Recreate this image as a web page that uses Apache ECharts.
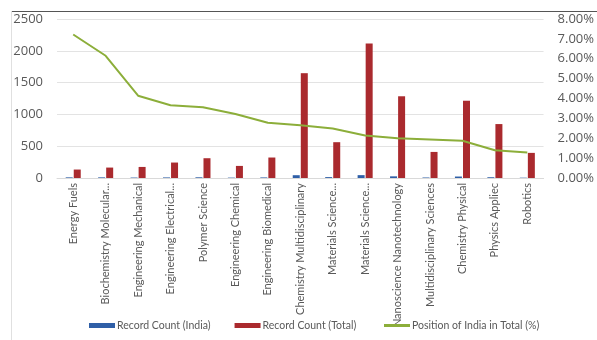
<!DOCTYPE html>
<html><head><meta charset="utf-8">
<script src="https://cdn.jsdelivr.net/npm/echarts@6/dist/echarts.min.js"></script>
<style>html,body{margin:0;padding:0;background:#fff}#c{width:597px;height:340px}</style>
</head><body><div id="c"></div>
<script>
const categories = ["Energy Fuels","Biochemistry Molecular...","Engineering Mechanical","Engineering Electrical...","Polymer Science","Engineering Chemical","Engineering Biomedical","Chemistry Multidisciplinary","Materials Science...","Materials Science...","Nanoscience Nanotechnology","Multidisciplinary Sciences","Chemistry Physical","Physics Appliec","Robotics"];
const indiaCount = [10,10,7,9,11,6,9,44,14,45,26,8,23,12,5];
const totalCount = [133,164,174,243,311,190,322,1648,563,2115,1285,410,1215,848,395];
const indiaPct = [7.22,6.15,4.14,3.66,3.56,3.22,2.78,2.66,2.49,2.14,2.0,1.94,1.87,1.40,1.28];
const leftTicks = [0,500,1000,1500,2000,2500];

const chart = echarts.init(document.getElementById('c'));
const txt = '#595959';
chart.setOption({
  animation:false,
  textStyle:{fontFamily:'Open Sans, Liberation Sans, sans-serif'},
  grid:{left:57,right:42,top:19,bottom:162},
  legend:[{
    bottom:4,left:84,itemGap:24,itemWidth:26,itemHeight:5,
    textStyle:{color:txt,fontSize:10.5,fontFamily:'Lato',padding:[0,0,0,-3]},
    data:[{name:'Record Count (India)',icon:'rect'},{name:'Record Count (Total)',icon:'rect'}]
  },{
    bottom:4,left:379,itemWidth:26,itemHeight:3,
    textStyle:{color:txt,fontSize:10.5,fontFamily:'Lato',padding:[0,0,0,-3]},
    data:[{name:'Position of India in Total (%)',icon:'rect'}]
  }],
  xAxis:{type:'category',data:categories,
    axisLine:{lineStyle:{color:'#d9d9d9'}},axisTick:{show:false},
    axisLabel:{rotate:90,interval:0,color:txt,fontSize:11,fontFamily:'Lato',margin:5}},
  yAxis:[
    {type:'value',min:leftTicks[0],max:leftTicks[leftTicks.length-1],interval:500,
     axisLabel:{color:txt,fontSize:13,margin:14,formatter:v=>String(v)},
     splitLine:{lineStyle:{color:'#e3e3e3'}}},
    {type:'value',min:0,max:8,interval:1,position:'right',
     axisLabel:{color:txt,fontSize:13,margin:14,formatter:v=>v.toFixed(2)+'%'},
     splitLine:{show:false}}
  ],
  series:[
    {name:'Record Count (India)',type:'bar',data:indiaCount,barWidth:7,barGap:'15%',itemStyle:{color:'#2f5fa7'}},
    {name:'Record Count (Total)',type:'bar',data:totalCount,barWidth:7,itemStyle:{color:'#aa2a2e'}},
    {name:'Position of India in Total (%)',type:'line',yAxisIndex:1,data:indiaPct,symbol:'none',
     lineStyle:{color:'#8cae3a',width:2},itemStyle:{color:'#8cae3a'}}
  ],
  graphic:[
    {type:'line',shape:{x1:11,y1:11.5,x2:597,y2:11.5},style:{stroke:'#555',lineWidth:1}},
    {type:'line',shape:{x1:11.5,y1:11,x2:11.5,y2:340},style:{stroke:'#e0e0e0',lineWidth:1}}
  ]
});
</script></body></html>
